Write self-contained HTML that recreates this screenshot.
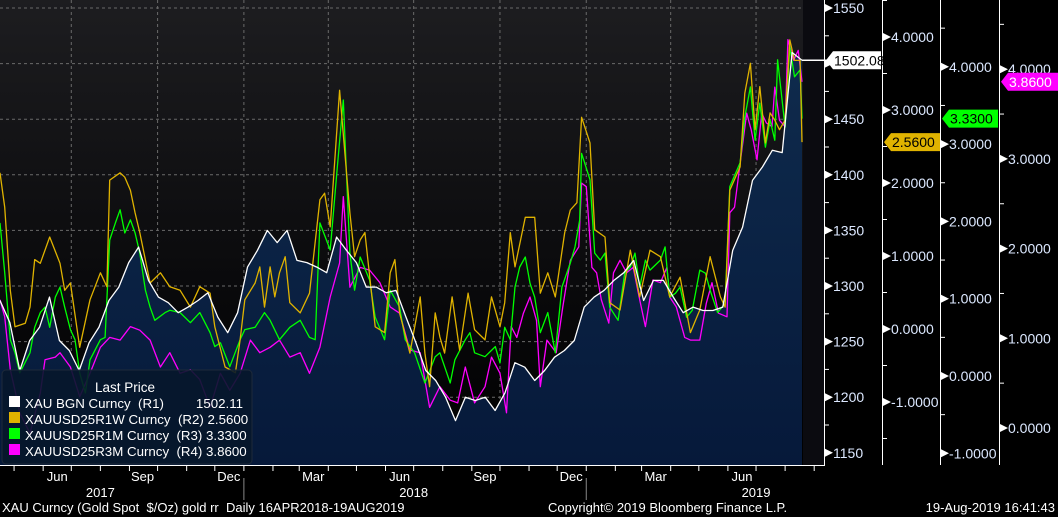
<!DOCTYPE html>
<html><head><meta charset="utf-8"><style>
html,body{margin:0;padding:0;background:#000;width:1058px;height:517px;overflow:hidden}
svg{display:block;font-family:"Liberation Sans",sans-serif}
text{white-space:pre}
</style></head><body>
<svg id="chart" width="1058" height="517" viewBox="0 0 1058 517" xmlns="http://www.w3.org/2000/svg" xml:space="preserve">
<defs>
<linearGradient id="bg" x1="0" y1="0" x2="0" y2="1"><stop offset="0" stop-color="#1d1d20"/><stop offset="0.6" stop-color="#0a0a0c"/><stop offset="1" stop-color="#000"/></linearGradient>
<linearGradient id="area" x1="0" y1="0" x2="0" y2="1"><stop offset="0" stop-color="#0f2b4d"/><stop offset="1" stop-color="#06193a"/></linearGradient>
</defs>
<rect x="0" y="0" width="824" height="465" fill="url(#bg)"/>
<g id="grid"></g>
<path id="goldArea" fill="url(#area)"/>
<g id="lines"></g>
<g id="axes"></g>
<g id="xaxis"></g>
<g>
<rect x="2" y="370" width="250" height="94" rx="4" fill="#07172b" fill-opacity="0.9" stroke="#1e2a3a"/>
<text x="95" y="392" fill="#fff" font-size="13.5">Last Price</text>
<rect x="9" y="396" width="11" height="11" fill="#fff"/>
<text x="25" y="408" fill="#fff" font-size="13.3">XAU BGN Curncy  (R1)</text>
<text x="243" y="408" fill="#fff" font-size="13.3" text-anchor="end">1502.11</text>
<rect x="9" y="412" width="11" height="11" fill="#e0b300"/>
<text x="25" y="424" fill="#fff" font-size="13.3">XAUUSD25R1W Curncy  (R2) 2.5600</text>
<rect x="9" y="428" width="11" height="11" fill="#00ff00"/>
<text x="25" y="440" fill="#fff" font-size="13.3">XAUUSD25R1M Curncy  (R3) 3.3300</text>
<rect x="9" y="444" width="11" height="11" fill="#ff00ff"/>
<text x="25" y="456" fill="#fff" font-size="13.3">XAUUSD25R3M Curncy  (R4) 3.8600</text>
</g>
<text x="2" y="512" fill="#fff" font-size="13">XAU Curncy (Gold Spot  $/Oz) gold rr  Daily 16APR2018-19AUG2019</text>
<text x="548" y="512" fill="#fff" font-size="13">Copyright© 2019 Bloomberg Finance L.P.</text>
<text x="1055" y="512" fill="#fff" font-size="13" text-anchor="end">19-Aug-2019 16:41:43</text>
</svg>
<script>
const startDate = "2017-04-16";
const endDate = "2019-08-19";
const monthLabels = ["Jun","Sep","Dec","Mar","Jun","Sep","Dec","Mar","Jun"];
const monthDates = ["2017-06-16","2017-09-15","2017-12-16","2018-03-16","2018-06-16","2018-09-15","2018-12-16","2019-03-16","2019-06-16"];
const yearLabels = ["2017","2018","2019"];
const yearDates = ["2017-08-01","2018-07-01","2019-07-01"];
const yearBreaks = ["2018-01-01","2019-01-01"];
const quarterDates = ["2017-07-01","2017-10-01","2018-01-01","2018-04-01","2018-07-01","2018-10-01","2019-01-01","2019-04-01","2019-07-01"];
const r1Ticks = [1150,1200,1250,1300,1350,1400,1450,1500,1550];
const r2Ticks = [-1,0,1,2,3,4];
const r3Ticks = [-1,0,1,2,3,4];
const r4Ticks = [0,1,2,3,4];
const goldValues = [1287,1267,1224,1251,1263,1290,1251,1242,1224,1249,1263,1287,1299,1321,1335,1305,1290,1285,1276,1281,1287,1294,1272,1258,1276,1317,1332,1350,1339,1350,1323,1321,1317,1312,1344,1332,1321,1299,1299,1294,1296,1272,1249,1224,1215,1200,1179,1200,1197,1200,1188,1204,1231,1227,1215,1224,1236,1242,1251,1281,1290,1296,1305,1312,1323,1287,1305,1305,1290,1276,1281,1278,1278,1281,1332,1353,1395,1407,1422,1420,1510,1503];
const rr1wDays = [0,5,11,16,27,32,37,43,53,64,69,75,85,96,107,114,117,128,133,139,144,149,160,171,181,192,203,213,224,229,240,251,256,261,272,277,282,288,293,298,304,309,320,330,341,346,352,362,373,378,384,389,400,410,416,421,426,437,448,453,458,464,469,474,482,490,499,506,517,524,533,538,544,549,560,570,576,584,592,602,608,615,620,629,634,645,650,661,672,682,693,704,714,725,736,746,757,768,773,778,789,794,800,805,810,816,821,826,831,837,842,847,853,855];
const rr1wValues = [2.14,1.67,0.53,0.03,0.08,0.30,0.95,0.90,1.26,0.90,0.53,0.63,-0.25,0.40,0.77,0.58,2.04,2.14,2.08,1.90,1.59,1.32,0.63,0.77,0.58,0.53,0.30,0.58,0.49,0.03,-0.52,-0.60,-0.15,0.40,0.63,0.85,0.30,0.85,0.44,0.77,0.99,0.36,0.22,0.49,1.77,1.86,1.40,3.27,1.59,0.99,1.22,1.32,0.03,-0.05,0.77,0.95,0.22,-0.33,0.44,-0.33,-0.79,0.22,-0.11,-0.33,0.44,-0.29,0.49,-0.01,-0.15,0.44,0.03,0.36,1.32,0.85,1.53,1.53,0.49,0.77,0.44,1.32,1.63,1.73,2.90,2.55,1.36,1.26,0.36,0.26,1.08,0.44,1.08,0.99,0.44,0.71,-0.05,0.26,0.99,0.44,0.30,1.90,2.22,3.23,3.64,2.73,3.32,2.55,2.96,2.86,2.73,2.86,3.96,3.68,3.68,2.56];
const rr1mDays = [0,5,11,16,21,32,37,43,48,53,59,64,69,75,80,85,91,96,107,112,117,123,128,133,139,144,149,155,160,165,176,181,192,203,213,224,229,235,245,256,261,272,282,288,298,309,320,330,336,341,352,360,366,373,378,384,394,400,410,416,426,432,442,453,464,469,480,485,496,501,506,517,528,533,538,544,549,554,560,565,570,576,584,592,599,608,613,618,620,629,634,640,645,650,659,666,672,677,682,688,693,704,709,714,720,725,732,738,746,752,757,765,773,778,789,794,800,805,810,816,821,826,829,837,842,847,853,855];
const rr1mValues = [1.98,1.34,0.47,0.30,0.04,0.30,0.63,0.82,0.89,0.63,1.02,1.15,0.89,0.60,0.47,0.04,-0.22,0.21,0.47,0.50,1.76,1.98,2.15,1.85,2.02,1.85,1.59,1.11,0.89,0.72,0.82,0.85,0.82,0.69,0.82,0.56,0.38,0.43,0.12,0.47,0.60,0.63,0.82,0.72,0.47,0.63,0.72,0.50,0.47,1.98,1.63,2.76,3.57,1.59,1.11,1.54,1.24,0.76,0.47,1.11,0.89,0.47,0.30,-0.09,0.25,0.30,-0.09,0.21,0.47,0.56,0.30,0.25,0.38,0.17,0.63,0.47,1.15,1.41,1.54,1.20,1.02,0.56,0.82,0.30,1.15,1.46,1.67,2.02,2.88,2.54,1.59,1.50,1.59,0.89,0.72,1.33,1.41,1.59,1.15,1.50,1.37,1.50,1.67,1.02,1.07,1.15,0.76,0.85,1.37,1.33,1.11,0.82,0.94,2.45,2.76,3.35,3.74,3.05,3.53,2.96,3.31,3.05,4.09,3.22,4.26,3.87,3.96,3.33];
const rr3mDays = [0,5,11,16,21,32,43,48,59,64,75,85,96,107,117,128,139,149,160,171,181,192,203,213,224,235,245,256,267,277,288,298,309,320,330,341,352,362,366,373,384,394,405,416,426,437,448,458,469,480,488,496,506,517,524,533,540,545,551,558,565,572,576,583,593,600,608,617,620,625,631,636,641,649,654,661,668,675,682,688,696,704,711,714,721,730,736,746,753,759,766,775,778,783,789,796,801,807,812,817,823,826,831,837,840,846,851,855];
const rr3mValues = [1.43,1.24,0.65,0.42,0.17,-0.06,0.39,0.76,0.79,0.84,0.68,0.35,0.61,0.90,1.01,0.98,1.13,1.09,0.98,0.68,0.84,0.61,0.65,0.54,0.23,0.61,0.42,0.61,0.98,0.84,0.90,0.98,0.79,0.84,0.61,0.90,1.46,1.84,2.58,1.57,1.79,1.76,1.62,1.35,1.28,0.87,0.84,0.23,0.46,0.31,0.28,0.68,0.28,0.46,0.79,0.61,0.17,1.13,1.01,1.28,1.46,1.20,0.46,0.98,0.84,1.35,1.87,2.02,2.73,2.69,1.79,1.73,1.43,1.17,1.73,1.87,1.73,1.79,1.43,1.13,1.65,1.62,1.79,1.46,1.35,1.01,0.98,0.98,1.39,1.62,1.28,1.24,2.40,2.46,2.95,3.51,3.32,2.99,3.51,3.40,3.36,3.80,3.43,3.36,4.33,4.10,4.21,3.86];

const NS="http://www.w3.org/2000/svg";
const t0=Date.parse(startDate), t1=Date.parse(endDate);
const totalDays=(t1-t0)/86400000;
const PLOT_W=802;
function xDate(d){return (Date.parse(d)-t0)/(t1-t0)*PLOT_W;}
function xDay(n){return n/totalDays*PLOT_W;}
function xIdx(i,n){return i/(n-1)*PLOT_W;}
function yR1(v){return 286-(v-1300)*1.112;}
function yR2(v){return 329-v*73;}
function yR3(v){return 376-v*77.3;}
function yR4(v){return 428-v*89.7;}
function mk(tag,attrs,parent){const e=document.createElementNS(NS,tag);for(const k in attrs)e.setAttribute(k,attrs[k]);parent.appendChild(e);return e;}
const grid=document.getElementById('grid'), lines=document.getElementById('lines'), axes=document.getElementById('axes'), xax=document.getElementById('xaxis');

r1Ticks.forEach(v=>{const g=mk('line',{x1:0,x2:824,y1:yR1(v),y2:yR1(v),stroke:'#6a6a6a','stroke-dasharray':'3,3','stroke-width':1},grid);

});
quarterDates.forEach(d=>{const g=mk('line',{x1:xDate(d),x2:xDate(d),y1:0,y2:465,stroke:'#6a6a6a','stroke-dasharray':'3,3','stroke-width':1},grid);

});
const band=mk('rect',{x:803,y:0,width:21,height:465,fill:'#0b0b10'},grid);



const gp=goldValues.map((v,i)=>[xIdx(i,goldValues.length),yR1(v)]);
document.getElementById('goldArea').setAttribute('d','M0,465 L'+gp.map(p=>p[0].toFixed(1)+','+p[1].toFixed(1)).join(' L')+' L'+PLOT_W+',465 Z');
function drawLine(p,color,name){const el=mk('polyline',{points:p.map(q=>q[0].toFixed(1)+','+q[1].toFixed(1)).join(' '),fill:'none',stroke:color,'stroke-width':1.3,'stroke-linejoin':'round'},lines);

}
drawLine(rr3mValues.map((v,i)=>[xDay(rr3mDays[i]),yR4(v)]),'#ff00ff','line-rr-3m');
drawLine(rr1mValues.map((v,i)=>[xDay(rr1mDays[i]),yR3(v)]),'#00ff00','line-rr-1m');
drawLine(rr1wValues.map((v,i)=>[xDay(rr1wDays[i]),yR2(v)]),'#e0b300','line-rr-1w');
drawLine(gp,'#ffffff','line-gold-price');

const bl=mk('line',{x1:824.5,x2:824.5,y1:0,y2:466,stroke:'#fff'},axes);


const bb=mk('line',{x1:0,x2:825,y1:465.5,y2:465.5,stroke:'#fff'},axes);



function axis(x0,ticks,yf,name,minorStep,lo,hi,fmt){
  if(name!=='r1'){const l=mk('line',{x1:x0+0.5,x2:x0+0.5,y1:0,y2:465,stroke:'#fff'},axes);
  
  }
  for(let v=lo;v<=hi+1e-9;v+=minorStep){const y=yf(v);if(y<0||y>465)continue;const m=mk('line',{x1:x0,x2:x0+5,y1:y,y2:y,stroke:'#fff'},axes);
  
  }
  ticks.forEach(v=>{const y=yf(v);if(y<0||y>470)return;
    const tr=mk('path',{d:`M${x0+1},${y-4} L${x0+9},${y} L${x0+1},${y+4} Z`,fill:'#fff'},axes);
    
    
    const t=mk('text',{x:x0+9,y:y+5,fill:'#dce8ff','font-size':14},axes);t.textContent=fmt(v);
    
    });
}
axis(824,r1Ticks,yR1,'r1',25,1150,1550,v=>String(v));
axis(882,r2Ticks,yR2,'r2',0.5,-1.5,4.5,v=>v.toFixed(4));
axis(940,r3Ticks,yR3,'r3',0.5,-1.5,4.5,v=>v.toFixed(4));
axis(999,r4Ticks,yR4,'r4',0.5,-0.5,4.5,v=>v.toFixed(4));

function tag(x,y,w,bg,fg,txt,name){const g=mk('g',{},axes);


mk('path',{d:`M${x},${y} L${x+7},${y-9} L${x+w},${y-9} L${x+w},${y+9} L${x+7},${y+9} Z`,fill:bg},g);
const t=mk('text',{x:x+8,y:y+5,fill:fg,'font-size':14},g);t.textContent=txt;}
const lastGold=goldValues[goldValues.length-1];
const gl=mk('line',{x1:802,x2:828,y1:yR1(lastGold),y2:yR1(lastGold),stroke:'#fff','stroke-width':1.5},axes);


tag(826,yR1(lastGold),55,'#fff','#000','1502.08','tag-gold-last');
tag(884,yR2(rr1wValues[rr1wValues.length-1]),56,'#e0b300','#000','2.5600','tag-rr-1w-last');
tag(942,yR3(rr1mValues[rr1mValues.length-1]),56,'#00ff00','#000','3.3300','tag-rr-1m-last');
tag(1001,yR4(rr3mValues[rr3mValues.length-1]),57,'#ff00ff','#fff','3.8600','tag-rr-3m-last');

for(let k=0;k<40;k++){const d=new Date(Date.UTC(2017,4+k,1));const x=(d-t0)/(t1-t0)*PLOT_W;if(x>824)break;
const tk=mk('line',{x1:x,x2:x,y1:465,y2:471,stroke:'#fff'},xax);

}
monthLabels.forEach((m,i)=>{const t=mk('text',{x:xDate(monthDates[i]),y:481,fill:'#fff','font-size':13,'text-anchor':'middle'},xax);t.textContent=m;

});
yearLabels.forEach((m,i)=>{const t=mk('text',{x:xDate(yearDates[i]),y:497,fill:'#fff','font-size':13,'text-anchor':'middle'},xax);t.textContent=m;

});
yearBreaks.forEach(d=>{const l=mk('line',{x1:xDate(d),x2:xDate(d),y1:478,y2:500,stroke:'#888'},xax);

});
</script>
</body></html>
